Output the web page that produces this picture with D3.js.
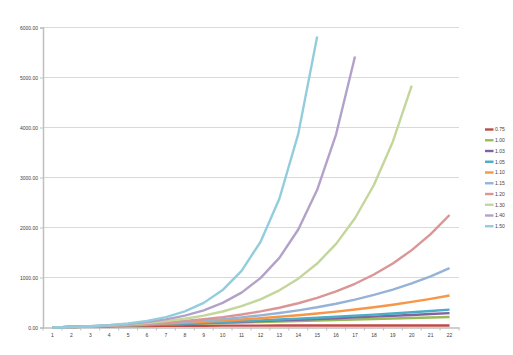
<!DOCTYPE html>
<html>
<head>
<meta charset="utf-8">
<script src="https://cdn.jsdelivr.net/npm/d3@7"></script>
<style>
  body { margin: 0; background: #fff; }
  text { font-family: "Liberation Sans", Arial, sans-serif; fill: #404040; }
</style>
</head>
<body>
<div id="chart"></div>
<script>
// Growth curves by rate, periods 1..22

const periods = d3.range(1, 23).map(String);
const seriesNames = ["0.75", "1.00", "1.03", "1.05", "1.10", "1.15", "1.20", "1.30", "1.40", "1.50"];
const yTicks = [0, 1000, 2000, 3000, 4000, 5000, 6000];

const s075 = [0, 10, 17.5, 23.1, 27.3, 30.5, 32.9, 34.7, 36.0, 37.0, 37.8, 38.3, 38.7, 39.0, 39.3, 39.5, 39.6, 39.7, 39.8, 39.8, 39.9, 39.9];
const s100 = [0, 10, 20, 30, 40, 50, 60, 70, 80, 90, 100, 110, 120, 130, 140, 150, 160, 170, 180, 190, 200, 210];
const s103 = [0, 10, 20.3, 30.9, 41.8, 53.1, 64.7, 76.6, 88.9, 101.6, 114.6, 128.1, 141.9, 156.2, 170.9, 186.0, 201.6, 217.6, 234.1, 251.2, 268.7, 286.8];
const s105 = [0, 10, 20.5, 31.5, 43.1, 55.3, 68.0, 81.4, 95.5, 110.3, 125.8, 142.1, 159.2, 177.1, 196.0, 215.8, 236.6, 258.4, 281.3, 305.4, 330.7, 357.2];
const s110 = [0, 10, 21, 33.1, 46.4, 61.1, 77.2, 94.9, 114.4, 135.8, 159.4, 185.3, 213.8, 245.2, 279.8, 317.7, 359.5, 405.4, 456.0, 511.6, 572.8, 640.0];
const s115 = [0, 10, 21.5, 34.7, 49.9, 67.4, 87.5, 110.7, 137.3, 167.9, 203.0, 243.5, 290.0, 343.5, 405.0, 475.8, 557.2, 650.8, 758.4, 882.1, 1024.4, 1188.1];
const s120 = [0, 10, 22, 36.4, 53.7, 74.4, 99.3, 129.2, 165.0, 208.0, 259.6, 321.5, 395.8, 485.0, 592.0, 720.4, 874.4, 1059.3, 1281.2, 1547.4, 1866.9, 2250.3];
const s130 = [0, 10, 23, 39.9, 61.9, 90.4, 127.6, 175.8, 238.6, 320.2, 426.2, 564.1, 743.3, 976.3, 1279.1, 1672.9, 2184.7, 2850.1, 3715.2, 4839.7];
const s140 = [0, 10, 24, 43.6, 71.0, 109.5, 163.2, 238.5, 343.9, 491.5, 698.1, 987.4, 1392.3, 1959.3, 2753.0, 3864.2, 5419.9];
const s150 = [0, 10, 25, 47.5, 81.3, 131.9, 207.8, 321.7, 492.6, 748.9, 1133.3, 1710.0, 2574.9, 3872.4, 5818.6];

const allSeries = [s075, s100, s103, s105, s110, s115, s120, s130, s140, s150];
const colors = ["#be4b48", "#9bbb59", "#8064a2", "#4bacc6", "#f79646",
                "#95b3d7", "#d99694", "#c3d69b", "#b3a2c7", "#93cddd"];

const W = 513, H = 355;
const plot = { left: 43, right: 459, top: 27.5, bottom: 327.5 };

const svg = d3.select("#chart").append("svg")
    .attr("width", W)
    .attr("height", H);

const x = d3.scaleBand().domain(periods).range([plot.left, plot.right]);
const y = d3.scaleLinear().domain([0, 6000]).range([plot.bottom, plot.top]);

// gridlines
svg.append("g")
    .selectAll("line")
    .data(yTicks.slice(1))
    .join("line")
    .attr("x1", plot.left)
    .attr("x2", plot.right)
    .attr("y1", d => y(d))
    .attr("y2", d => y(d))
    .attr("stroke", "#d9d9d9")
    .attr("stroke-width", 1);

// y axis
const yAxis = svg.append("g")
    .attr("transform", `translate(${plot.left},0)`)
    .call(d3.axisLeft(y).tickValues(yTicks).tickFormat(d3.format(".2f")).tickSize(3).tickPadding(2));
yAxis.select(".domain").attr("stroke", "#bfbfbf").attr("stroke-width", 1.5);
yAxis.selectAll(".tick line").attr("stroke", "#bfbfbf");
yAxis.selectAll("text").attr("font-size", 5).attr("fill", "#404040")
    .style("font-family", "'Liberation Sans', Arial, sans-serif");

// x axis
const xAxis = svg.append("g")
    .attr("transform", `translate(0,${plot.bottom})`)
    .call(d3.axisBottom(x).tickSize(0).tickPadding(6));
xAxis.select(".domain").attr("stroke", "#bfbfbf").attr("stroke-width", 1.5);
xAxis.selectAll("text").attr("font-size", 5).attr("fill", "#404040")
    .style("font-family", "'Liberation Sans', Arial, sans-serif");
// tick marks between categories
xAxis.append("g")
    .selectAll("line")
    .data(d3.range(periods.length + 1))
    .join("line")
    .attr("x1", i => plot.left + i * x.step())
    .attr("x2", i => plot.left + i * x.step())
    .attr("y1", 0)
    .attr("y2", 3)
    .attr("stroke", "#bfbfbf");

// lines
const line = d3.line()
    .x((d, i) => x(periods[i]) + x.bandwidth() / 2)
    .y(d => y(d));

svg.append("g")
    .selectAll("path")
    .data(allSeries)
    .join("path")
    .attr("d", line)
    .attr("fill", "none")
    .attr("stroke", (d, i) => colors[i])
    .attr("stroke-width", 2.4)
    .attr("stroke-linejoin", "round");

// legend
const legend = svg.append("g")
    .selectAll("g")
    .data(seriesNames)
    .join("g")
    .attr("transform", (d, i) => `translate(485,${129.5 + i * 10.75})`);

legend.append("line")
    .attr("x1", 0)
    .attr("x2", 8.5)
    .attr("stroke", (d, i) => colors[i])
    .attr("stroke-width", 2.4);

legend.append("text")
    .attr("x", 10)
    .attr("dy", "0.35em")
    .attr("font-size", 5)
    .text(d => d);
</script>
</body>
</html>
